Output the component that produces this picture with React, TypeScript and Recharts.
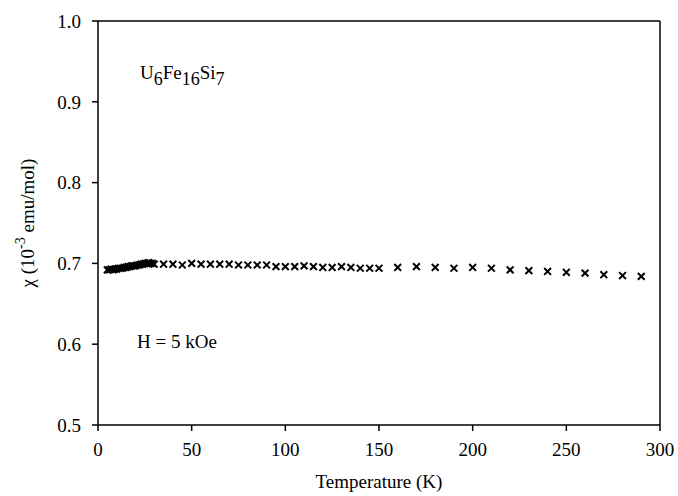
import { ScatterChart, Scatter, XAxis, YAxis, ReferenceLine, Label } from 'recharts'

// temperature (K) and susceptibility (10^-3 emu/mol)
const temps = [
  5, 6, 7, 8, 9, 10, 11, 12, 13, 14, 15, 16, 17, 18, 19, 20, 21, 22, 23, 24, 25, 26, 27, 28, 29, 30,
  35, 40, 45, 50, 55, 60, 65, 70, 75, 80, 85, 90, 95, 100, 105, 110, 115, 120, 125, 130, 135, 140, 145, 150,
  160, 170, 180, 190, 200, 210, 220, 230, 240, 250, 260, 270, 280, 290,
]
const chi = [
  0.692, 0.692, 0.693, 0.692, 0.693, 0.693, 0.694, 0.694, 0.694, 0.695, 0.695, 0.696, 0.696, 0.697, 0.697, 0.697,
  0.698, 0.698, 0.699, 0.699, 0.7, 0.7, 0.701, 0.7, 0.7, 0.699,
  0.699, 0.699, 0.698, 0.7, 0.699, 0.699, 0.699, 0.699, 0.698, 0.698, 0.698, 0.698, 0.696, 0.696, 0.696, 0.697,
  0.696, 0.695, 0.695, 0.696, 0.695, 0.694, 0.694, 0.694,
  0.695, 0.696, 0.695, 0.694, 0.695, 0.694, 0.692, 0.691, 0.69, 0.689, 0.688, 0.686, 0.685, 0.684,
]
const xTicks = [0, 50, 100, 150, 200, 250, 300]
const yTicks = [0.5, 0.6, 0.7, 0.8, 0.9, 1.0]

const data = temps.map((t, i) => ({ t, chi: chi[i] }))

const font = '"Liberation Serif", "Times New Roman", serif'

const Cross = (props: any) => {
  const { cx, cy } = props
  const s = 3.4
  return (
    <path
      d={`M${cx - s},${cy - s}L${cx + s},${cy + s}M${cx - s},${cy + s}L${cx + s},${cy - s}`}
      stroke="#000"
      strokeWidth={2}
    />
  )
}

const YLabel = (props: any) => {
  const { viewBox } = props
  const x = 27
  const y = viewBox.y + viewBox.height / 2
  return (
    <text
      x={x}
      y={y}
      transform={`rotate(-90, ${x}, ${y})`}
      textAnchor="middle"
      dominantBaseline="central"
      fontFamily={font}
      fontSize={19}
      fill="#000"
    >
      χ (10<tspan dy={-7} fontSize={14}>-3</tspan>
      <tspan dy={7}> emu/mol)</tspan>
    </text>
  )
}

export default function App() {
  const tickStyle = { fontFamily: font, fontSize: 19, fill: '#000' }
  return (
    <div style={{ position: 'absolute', left: 0, top: 0, width: 678, height: 496, background: '#fff' }}>
      <ScatterChart width={678} height={496} margin={{ top: 21, right: 18, bottom: 26, left: 38 }}>
        <XAxis
          type="number"
          dataKey="t"
          domain={[0, 300]}
          ticks={xTicks}
          stroke="#000"
          strokeWidth={1.5}
          tickSize={6}
          tickMargin={12}
          tick={tickStyle}
          height={45}
        >
          <Label
            value="Temperature (K)"
            position="insideBottom"
            offset={-18}
            style={{ fontFamily: font, fontSize: 19, fill: '#000' }}
          />
        </XAxis>
        <YAxis
          type="number"
          dataKey="chi"
          domain={[0.5, 1.0]}
          ticks={yTicks}
          tickFormatter={(v: number) => v.toFixed(1)}
          stroke="#000"
          strokeWidth={1.5}
          tickSize={6}
          tickMargin={11}
          tick={tickStyle}
          width={60}
        >
          <Label content={YLabel} />
        </YAxis>
        <ReferenceLine y={1.0} stroke="#000" strokeWidth={1.5} />
        <ReferenceLine x={300} stroke="#000" strokeWidth={1.5} />
        <Scatter data={data} shape={Cross} isAnimationActive={false} />
      </ScatterChart>
      <div
        style={{ position: 'absolute', left: 140, top: 62, fontFamily: font, fontSize: 19, color: '#000' }}
      >
        U<sub style={{ fontSize: 18, verticalAlign: -6 }}>6</sub>Fe<sub style={{ fontSize: 18, verticalAlign: -6 }}>16</sub>Si
        <sub style={{ fontSize: 18, verticalAlign: -6 }}>7</sub>
      </div>
      <div
        style={{ position: 'absolute', left: 137, top: 331, fontFamily: font, fontSize: 19, color: '#000' }}
      >
        H = 5 kOe
      </div>
    </div>
  )
}
